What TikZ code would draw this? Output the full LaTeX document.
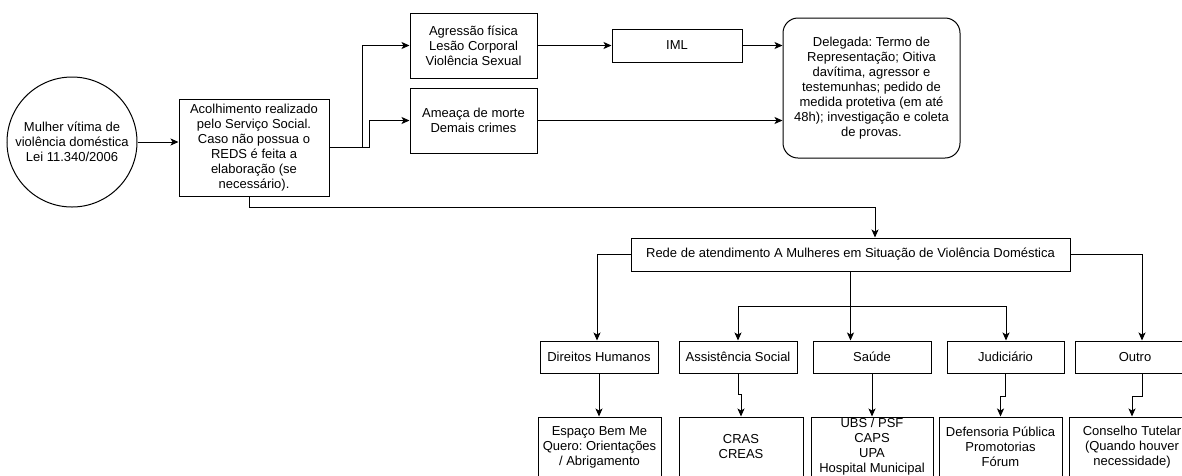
\documentclass[tikz,border=0pt]{standalone}
\usepackage{fontspec}
\setmainfont{Liberation Sans}
\usetikzlibrary{arrows.meta}
\frenchspacing
\begin{document}
\begin{tikzpicture}[x=1pt,y=-1pt,
  every node/.style={font=\fontsize{13}{15}\selectfont, align=center, inner sep=0pt},
  box/.style={draw, line width=1pt, minimum width=#1},
  circ/.style={draw, line width=1pt, circle, minimum size=130pt},
  arr/.style={line width=1pt, -{Stealth[length=8pt,width=7pt,inset=2pt]}},
  ln/.style={line width=1pt}]
\useasboundingbox (0,0) rectangle (1182,475);
\clip (0,0) rectangle (1182,475);

\node[circ] (mul) at (72,142) {Mulher vítima de\\violência doméstica\\Lei 11.340/2006};
\node[box=150pt, minimum height=97pt] (aco) at (254,147.5) {Acolhimento realizado\\pelo Serviço Social.\\Caso não possua o\\REDS é feita a\\elaboração (se\\necessário).};
\node[box=127pt, minimum height=65pt] (agr) at (473.5,45.5) {Agressão física\\Lesão Corporal\\Violência Sexual};
\node[box=127pt, minimum height=65pt] (ame) at (473.5,120.5) {Ameaça de morte\\Demais crimes};
\node[box=130pt, minimum height=33pt] (iml) at (677,45.5) {IML};
\node[box=177pt, minimum height=140pt, rounded corners=15pt] (del) at (871.5,88) {Delegada: Termo de\\Representação; Oitiva\\davítima, agressor e\\testemunhas; pedido de\\medida protetiva (em até\\48h); investigação e coleta\\de provas.};
\node[box=439pt, minimum height=33pt] (rede) at (850.5,254.5) {Rede de atendimento A Mulheres em Situação de Violência Doméstica};

\node[box=118pt, minimum height=32pt] (dir) at (599,357) {Direitos Humanos};
\node[box=118pt, minimum height=32pt] (asi) at (738,357) {Assistência Social};
\node[box=118pt, minimum height=32pt] (sau) at (872,357) {Saúde};
\node[box=117pt, minimum height=32pt] (jud) at (1005.5,357) {Judiciário};
\node[box=120pt, minimum height=32pt] (out) at (1135,357) {Outro};

\node[box=123pt, minimum height=60pt] (esp) at (599.5,447) {Espaço Bem Me\\Quero: Orientações\\/ Abrigamento};
\node[box=124pt, minimum height=60pt] (cras) at (741,447) {CRAS\\CREAS};
\node[box=122pt, minimum height=60pt] (ubs) at (872,447) {UBS / PSF\\CAPS\\UPA\\Hospital Municipal};
\node[box=123pt, minimum height=60pt] (def) at (1000.5,447) {Defensoria Pública\\Promotorias\\Fórum};
\node[box=126pt, minimum height=60pt] (con) at (1132,447) {Conselho Tutelar\\(Quando houver\\necessidade)};

\coordinate (j1) at (362,0);
\coordinate (j2) at (369,0);
\coordinate (j3) at (875,207);
\coordinate (bus) at (851,306);

\draw[arr] (mul.east) -- (mul.east -| aco.west);
\draw[arr] (aco.east) -- (aco.east -| j1) |- (agr.west);
\draw[arr] (aco.east) -- (aco.east -| j2) |- (ame.west);
\draw[arr] (agr.east) -- (iml.west);
\draw[arr] (iml.east) -- (iml.east -| del.west);
\draw[arr] (ame.east) -- (ame.east -| del.west);
\draw[arr] ([xshift=-5pt]aco.south) |- (j3) -- (j3 |- rede.north);

\draw[arr] (rede.west) -| ([xshift=-2pt]dir.north);
\draw[arr] (rede.east) -| ([xshift=7pt]out.north);
\draw[arr] (rede.south) -- (rede.south |- sau.north);
\draw[arr] (bus) -| (asi.north);
\draw[arr] (bus) -| ([xshift=0.5pt]jud.north);

\draw[arr] (dir.south) -- (dir.south |- esp.north);
\draw[arr] (asi.south) -- ++(0,21) -| (cras.north);
\draw[arr] (sau.south) -- (sau.south |- ubs.north);
\draw[arr] (jud.south) -- ++(0,23) -| (def.north);
\draw[arr] ([xshift=7pt]out.south) -- ++(0,23) -| (con.north);
\end{tikzpicture}
\end{document}
